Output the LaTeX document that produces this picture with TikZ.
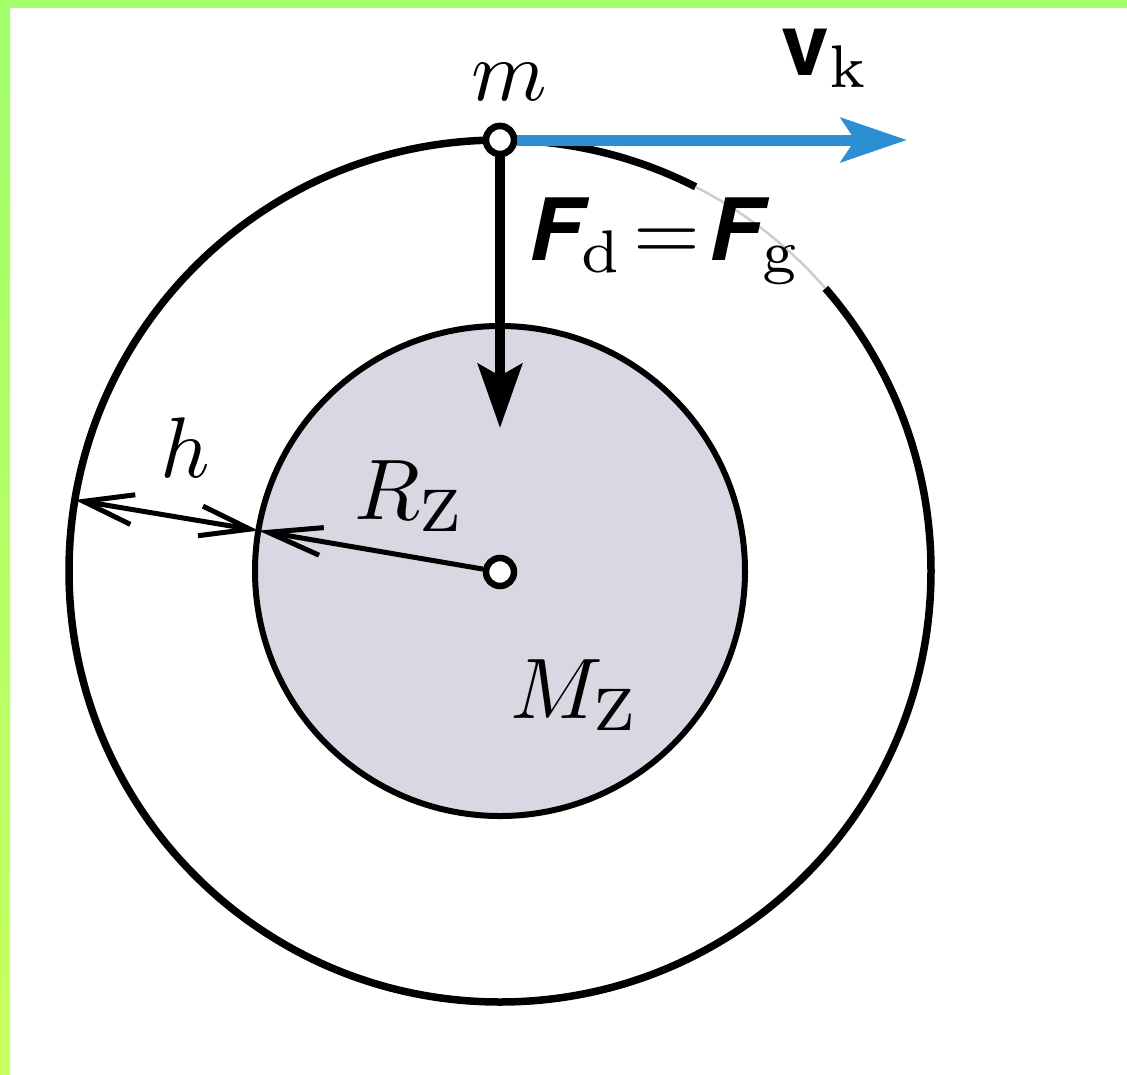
\documentclass[tikz,border=0pt]{standalone}
\usepackage{fontspec}
\newfontfamily\heros{TeX Gyre Heros}
\usetikzlibrary{arrows.meta}
\definecolor{framegreenA}{RGB}{160,255,106}
\definecolor{framegreenB}{RGB}{200,255,96}
\definecolor{earthgray}{RGB}{216,216,226}
\definecolor{velblue}{RGB}{44,143,212}
\definecolor{gapgray}{RGB}{205,205,205}
\newcommand{\vecF}{\mbox{\heros\bfseries\itshape F}}
\newcommand{\vecv}{\mbox{\heros\bfseries v}}
\begin{document}
\begin{tikzpicture}[x=1pt,y=-1pt,
  lab/.style={inner sep=0pt, scale=8.6, transform shape},
  dot/.style={circle,draw=black,fill=white,line width=6.5pt,minimum size=28pt,inner sep=0pt},
  dimline/.style={line width=5pt}
]
\useasboundingbox (0,0) rectangle (1127,1074);
\fill[white] (0,0) rectangle (1127,1074);
\shade[top color=framegreenA, bottom color=framegreenB] (0,0) rectangle (10,1074);
\fill[framegreenA] (0,0) rectangle (1127,8);
% circles
\draw[line width=6pt, fill=earthgray] (500,571) circle (245pt);
\draw[line width=7.5pt] (500,571) circle (431pt);
\draw[white, line width=10pt] (825.3,288.2) arc[start angle=41, end angle=63, radius=431pt];
\draw[gapgray, line width=2.5pt] (825.3,288.2) arc[start angle=41, end angle=63, radius=431pt];
% points
\node[dot] (m) at (500,140) {};
\node[dot] (c) at (500,572) {};
\coordinate (ftip) at (500,428);
\coordinate (vtip) at (907,140);
\coordinate (pin) at (258.4,530.6);
\coordinate (pout) at (74.9,499.9);
% arrows
\draw[velblue, line width=11pt, -{Stealth[length=66pt,width=44pt,inset=14pt]}] (m) -- (vtip);
\draw[black, line width=10pt, -{Stealth[length=64pt,width=44pt,inset=12pt]}] (m) -- (ftip);
\draw[dimline, {Straight Barb[length=50pt,width=30pt]}-{Straight Barb[length=50pt,width=30pt]}] (pout) -- (pin);
\draw[dimline, -{Straight Barb[length=54pt,width=28pt]}] (c) -- (pin);
\node[dot] at (m) {};
% labels
\node[lab, anchor=base] (mlab) at (509,100) {$m$};
\node[lab, anchor=base west] (vlab) at (780,75) {$\vecv_{\mathrm{k}}$};
\node[lab, anchor=base] (flab) at (665,260) {$\vecF_{\mathrm{d}}\!=\!\vecF_{\mathrm{g}}$};
\node[lab, anchor=base] (hlab) at (185,477) {$h$};
\node[lab, anchor=base] (rlab) at (410,519) {$R_{\mathrm{Z}}$};
\node[lab, anchor=base] (mzlab) at (575,718) {$M_{\mathrm{Z}}$};
\end{tikzpicture}
\end{document}
